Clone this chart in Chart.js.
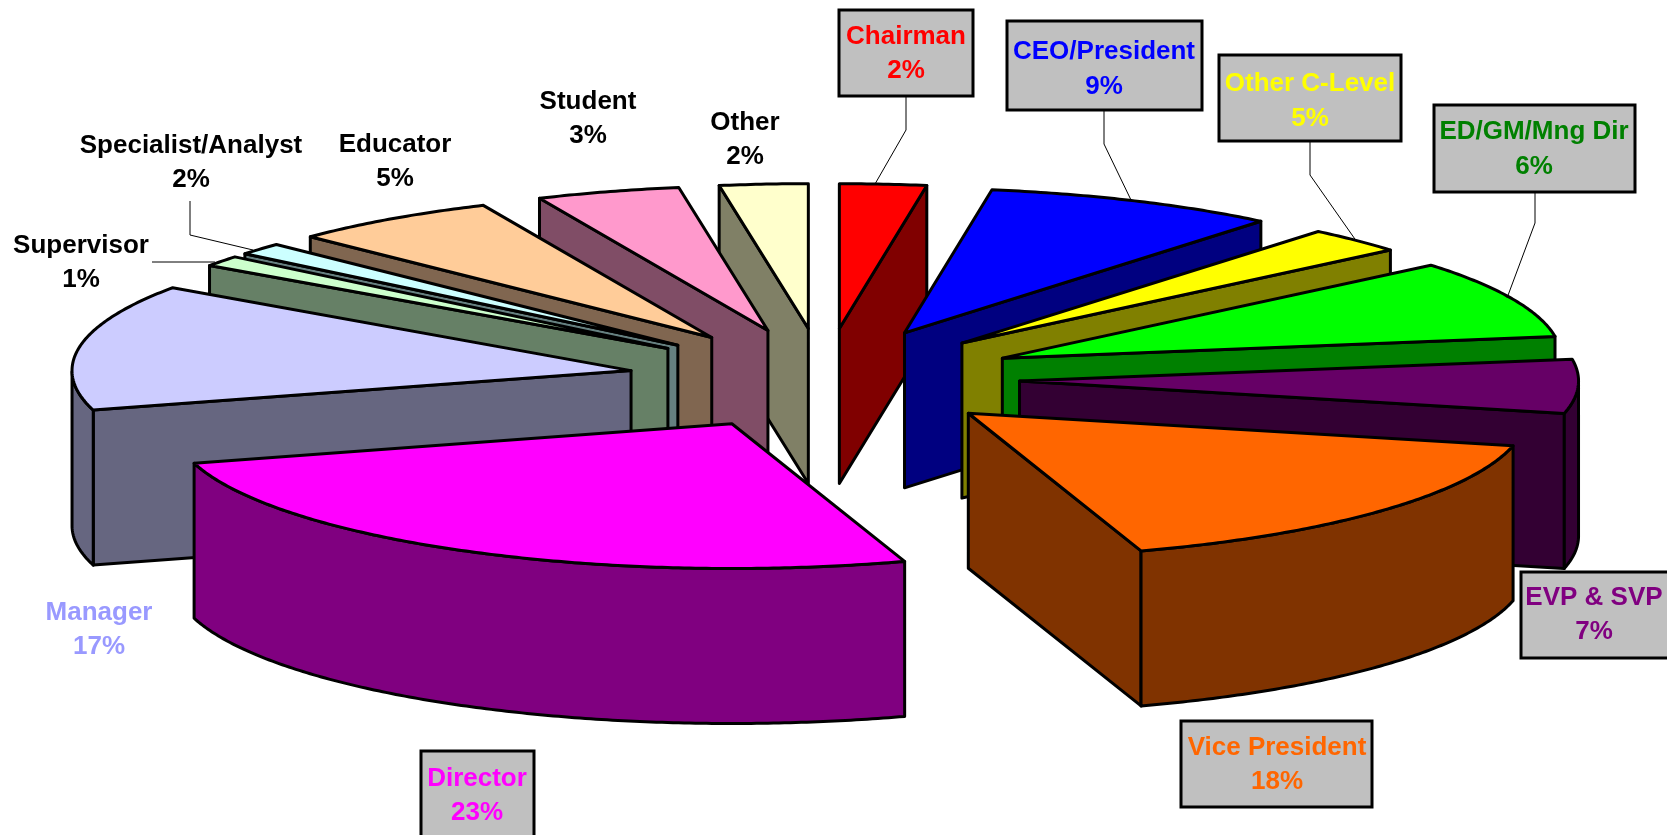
<!DOCTYPE html>
<html><head><meta charset="utf-8">
<style>html,body{margin:0;padding:0;background:#fff;overflow:hidden}canvas{display:block}</style>
<script src="https://cdn.jsdelivr.net/npm/chart.js@4"></script>
</head><body><canvas id="c" width="1667" height="835"></canvas>
<script>
const categories = ["Chairman","CEO/President","Other C-Level","ED/GM/Mng Dir","EVP & SVP","Vice President","Director","Manager","Supervisor","Specialist/Analyst","Educator","Student","Other"];
const values = [2,9,5,6,7,18,23,17,1,2,5,3,2];
// the source's 3D view skews slice widths away from their labelled share: share of the turn each slice occupies on screen
const viewShares = [2.5,8.5,2.9,8.7,6,16.4,25.6,14.1,1.2,1.35,6.05,4.15,2.55];
const topColors = ["#FF0000","#0000FF","#FFFF00","#00FF00","#660066","#FF6600","#FF00FF","#CCCCFF","#CCFFCC","#CCFFFF","#FFCC99","#FF99CC","#FFFFCC"];
const sideColors = ["#800000","#000080","#808000","#008000","#330033","#803300","#800080","#666680","#668066","#668080","#806650","#804D66","#808066"];
const labelColors = ["#FF0000","#0000FF","#FFFF00","#008000","#800080","#FF6600","#FF00FF","#9999FF","#000","#000","#000","#000","#000"];
// callouts: [text centre x, line 1 y, line 2 y]
const labelPos = [[906,37,71],[1104,52,87],[1310,84,119],[1534,132,167],[1594,598,632],[1277,748,782],[477,779,813],[99,613,647],[81,246,280],[191,146,180],[395,145,179],[588,102,136],[745,123,157]];
const labelBoxes = {0:[839,10,134,86],1:[1007,21,195,89],2:[1219,55,182,86],3:[1434,105,201,87],4:[1521,572,160,86],5:[1181,721,191,86],6:[421,751,113,90]};
const leaders = [[[906,96],[906,130],[875,184]],[[1104,110],[1104,144],[1131,200]],[[1310,141],[1310,175],[1357,242]],[[1535,192],[1535,223],[1507,298]],[[152,262],[215,262]],[[190,201],[190,235],[253,250]]];
const VIEW = {sx:1.475, sy:0.382, depth:155, explode:0.35};

const total = values.reduce((a,b)=>a+b,0);
const cumV=[0], cumS=[0];
values.forEach((v,i)=>{cumV.push(cumV[i]+v);cumS.push(cumS[i]+viewShares[i]);});
function viewAngle(chartAngle){ // chart angle (0 = 3 o'clock) -> clockwise from 12 o'clock, after the view skew
  const f=((chartAngle+Math.PI/2)/(2*Math.PI))*total;
  let i=0; while(i<values.length-1 && f>cumV[i+1]+1e-9) i++;
  const t=(f-cumV[i])/(cumV[i+1]-cumV[i]);
  return (cumS[i]+t*(cumS[i+1]-cumS[i]))/cumS[values.length]*2*Math.PI;
}
const pie3d = {
  id:'pie3d',
  beforeDatasetDraw(chart,args){
    const ctx=chart.ctx, arcs=chart.getDatasetMeta(args.index).data;
    const ds=chart.data.datasets[args.index];
    const slices=arcs.map((a,i)=>{
      const p=a.getProps(['x','y','startAngle','endAngle','outerRadius'],true);
      const t0=viewAngle(p.startAngle), t1=viewAngle(p.endAngle), mid=(t0+t1)/2;
      return {i,p,t0,t1,mid,depthKey:Math.cos(mid),fill:a.options.backgroundColor,side:ds.sideColor[i]};
    }).sort((a,b)=>b.depthKey-a.depthKey);
    ctx.save();
    ctx.lineJoin='round'; ctx.lineWidth=3; ctx.strokeStyle='#000';
    const poly=(pts,fill)=>{ctx.beginPath();pts.forEach((q,k)=>k?ctx.lineTo(q[0],q[1]):ctx.moveTo(q[0],q[1]));ctx.closePath();ctx.fillStyle=fill;ctx.fill();ctx.stroke();};
    for(const s of slices){
      const {p,t0,t1,mid}=s;
      const ex=VIEW.explode*Math.sin(mid), ey=VIEW.explode*Math.cos(mid);
      const proj=(r,t)=>[p.x+VIEW.sx*p.outerRadius*(ex+r*Math.sin(t)), p.y-VIEW.sy*p.outerRadius*(ey+r*Math.cos(t))];
      const down=q=>[q[0],q[1]+VIEW.depth];
      const apex=proj(0,0), a0=proj(1,t0), a1=proj(1,t1);
      if(Math.sin(t0)<0) poly([apex,a0,down(a0),down(apex)],s.side);
      if(Math.sin(t1)>0) poly([apex,a1,down(a1),down(apex)],s.side);
      // outer wall: the near-side part of the rim
      const rim=[]; const n=Math.max(2,Math.ceil((t1-t0)/0.01));
      for(let k=0;k<=n;k++){const t=t0+(t1-t0)*k/n; if(Math.cos(t)<0) rim.push(proj(1,t));}
      if(rim.length>1) poly(rim.concat(rim.map(down).reverse()),s.side);
      const top=[apex]; for(let k=0;k<=n;k++) top.push(proj(1,t0+(t1-t0)*k/n));
      poly(top,s.fill);
    }
    ctx.restore();
    return false; // the flat arcs are replaced by the extruded view above
  },
  afterDraw(chart){
    const ctx=chart.ctx; ctx.save();
    ctx.strokeStyle='#000'; ctx.lineWidth=1;
    leaders.forEach(l=>{ctx.beginPath();l.forEach((q,k)=>k?ctx.lineTo(q[0],q[1]):ctx.moveTo(q[0],q[1]));ctx.stroke();});
    Object.entries(labelBoxes).forEach(([k,b])=>{ctx.fillStyle='#C0C0C0';ctx.fillRect(b[0],b[1],b[2],b[3]);ctx.lineWidth=3;ctx.strokeRect(b[0],b[1],b[2],b[3]);});
    ctx.font='bold 26px "Liberation Sans", Arial, sans-serif';ctx.textAlign='center';ctx.textBaseline='middle';
    categories.forEach((c,i)=>{const [x,y1,y2]=labelPos[i];ctx.fillStyle=labelColors[i];ctx.fillText(c,x,y1);ctx.fillText(values[i]+'%',x,y2);});
    ctx.restore();
  }
};
new Chart(document.getElementById('c'),{
  type:'pie',
  data:{labels:categories,datasets:[{data:values,backgroundColor:topColors,sideColor:sideColors,borderColor:'#000',borderWidth:0}]},
  options:{responsive:false,animation:false,devicePixelRatio:1,
    layout:{padding:{right:19,bottom:77}},
    plugins:{legend:{display:false},tooltip:{enabled:false}}},
  plugins:[pie3d]
});
</script></body></html>
